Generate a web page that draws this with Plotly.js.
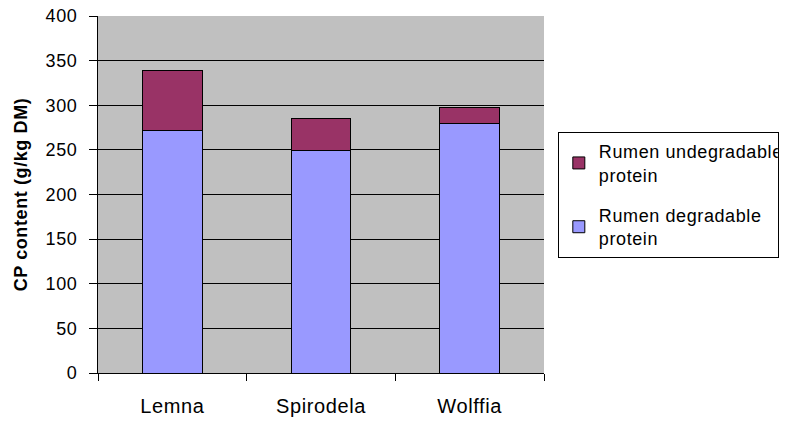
<!DOCTYPE html>
<html>
<head>
<meta charset="utf-8">
<script src="https://cdn.plot.ly/plotly-3.0.1.min.js"></script>
<style>
html,body{margin:0;padding:0;background:#fff;}
#chart{width:797px;height:423px;}
#chart text{letter-spacing:0.6px;}
</style>
</head>
<body>
<div id="chart"></div>
<script>
var categories = ["Lemna", "Spirodela", "Wolffia"];
var degradable = [272, 249, 280];
var undegradable = [67, 36, 18];
var seriesNames = ["Rumen degradable<br>protein", "Rumen undegradable<br>protein"];
var yTicks = [0, 50, 100, 150, 200, 250, 300, 350, 400];

var fam = "Arial, Liberation Sans, sans-serif";
var traces = [
  {type: "bar", x: categories, y: degradable, name: seriesNames[0],
   legendgroup: "deg", legendrank: 2,
   marker: {color: "#9999FF", line: {color: "#000", width: 1}}},
  {type: "bar", x: categories, y: undegradable, name: seriesNames[1],
   legendgroup: "undeg", legendrank: 1,
   marker: {color: "#993366", line: {color: "#000", width: 1}}}
];
var layout = {
  width: 797, height: 423,
  margin: {l: 98, r: 253, t: 16, b: 50},
  barmode: "stack", bargap: 0.6,
  plot_bgcolor: "#C0C0C0", paper_bgcolor: "#FFFFFF",
  font: {family: fam, size: 17, color: "#000"},
  showlegend: true,
  legend: {x: 1.031, y: 0.675, xanchor: "left", yanchor: "top",
           traceorder: "grouped", bordercolor: "#000", borderwidth: 1,
           font: {family: fam, size: 18, color: "#000"}, bgcolor: "#fff",
           itemwidth: 30, tracegroupgap: 14},
  xaxis: {showline: true, linecolor: "#000", linewidth: 1, mirror: false,
          ticks: "outside", tickson: "boundaries", ticklen: 7, tickcolor: "#000",
          ticklabelstandoff: 15, tickfont: {family: fam, size: 20, color: "#000"},
          showgrid: false, zeroline: false},
  yaxis: {range: [0, 400], tickvals: yTicks, ticktext: yTicks.map(String),
          showline: true, linecolor: "#000", linewidth: 1,
          ticks: "outside", ticklen: 8, tickcolor: "#000", ticklabelstandoff: 8,
          tickfont: {family: fam, size: 18, color: "#000"},
          showgrid: true, gridcolor: "#000", gridwidth: 1, zeroline: false,
          title: {text: "<b>CP content (g/kg DM)</b>", font: {family: fam, size: 18, color: "#000"}, standoff: 15}}
};
Plotly.newPlot("chart", traces, layout, {displayModeBar: false, staticPlot: true});
</script>
</body>
</html>
